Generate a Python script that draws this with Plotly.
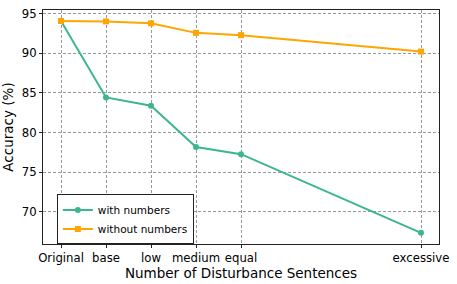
import plotly.graph_objects as go

categories = ["Original", "base", "low", "medium", "equal", "excessive"]
x_positions = [0, 1, 2, 3, 4, 8]
with_numbers = [94.05, 84.42, 83.39, 78.18, 77.28, 67.37]
without_numbers = [94.05, 94.0, 93.76, 92.56, 92.27, 90.2]

GREEN = "#3bb78a"
ORANGE = "#ffa500"

fig = go.Figure()
fig.add_trace(go.Scatter(
    x=x_positions, y=with_numbers, mode="lines+markers", name="with numbers",
    line=dict(color=GREEN, width=2), marker=dict(symbol="circle", size=6, color=GREEN)))
fig.add_trace(go.Scatter(
    x=x_positions, y=without_numbers, mode="lines+markers", name="without numbers",
    line=dict(color=ORANGE, width=2), marker=dict(symbol="square", size=6, color=ORANGE)))

axis_common = dict(
    showline=True, linecolor="#222", linewidth=1, mirror=True,
    showgrid=True, gridcolor="#999999", griddash="3px,2px", gridwidth=0.8,
    ticks="outside", ticklen=3, tickcolor="#222", zeroline=False,
    tickfont=dict(size=11.7, color="black"),
)

fig.update_layout(
    width=457, height=284,
    margin=dict(l=43, r=18, t=7, b=40),
    paper_bgcolor="white", plot_bgcolor="white",
    font=dict(family="DejaVu Sans", color="black"),
    xaxis=dict(**axis_common, range=[-0.4, 8.4], tickvals=x_positions, ticktext=categories,
               title=dict(text="Number of Disturbance Sentences", font=dict(size=13.5), standoff=2)),
    yaxis=dict(**axis_common, range=[65.96, 95.44], tickvals=[70, 75, 80, 85, 90, 95],
               title=dict(text="Accuracy (%)", font=dict(size=13.5), standoff=5)),
    legend=dict(x=0.035, y=0.105, xanchor="left", yanchor="middle",
                bordercolor="#222", borderwidth=1, bgcolor="white",
                font=dict(size=10.5), tracegroupgap=0, itemwidth=30),
    showlegend=True,
)

fig.write_html("out.html", config={"displayModeBar": False},
               post_script="document.body.style.margin='0';")
